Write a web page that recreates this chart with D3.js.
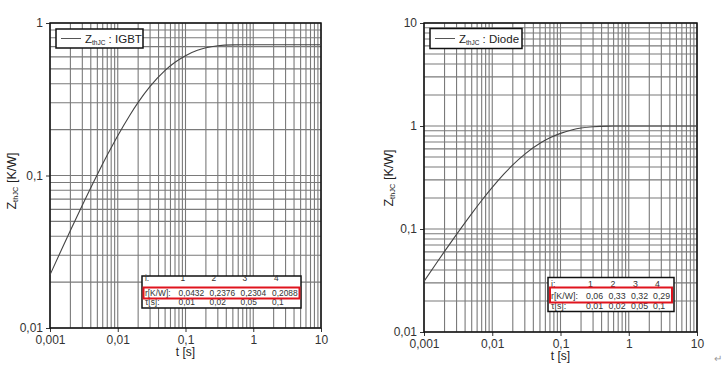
<!DOCTYPE html>
<html><head><meta charset="utf-8">
<script src="https://cdn.jsdelivr.net/npm/d3@7/dist/d3.min.js"></script>
<style>body{margin:0;background:#fff}svg{display:block;font-family:"Liberation Sans",Arial,sans-serif}</style>
</head><body>
<svg id="c" width="727" height="373"></svg>
<script>
// time samples [s]
const times = [0.001,0.0015,0.002,0.003,0.005,0.007,0.01,0.015,0.02,0.03,0.05,0.07,0.1,0.15,0.2,0.3,0.5,0.7,1,2,5,10];
// Z_thJC IGBT [K/W]
const zIGBT = [0.0223,0.0331,0.0436,0.0639,0.1017,0.1361,0.1825,0.2477,0.3014,0.3837,0.4888,0.5523,0.6104,0.6618,0.6875,0.7090,0.7186,0.7198,0.72,0.72,0.72,0.72];
// Z_thJC Diode [K/W]
const zDiode = [0.0310,0.0460,0.0606,0.0887,0.1412,0.1890,0.2534,0.3441,0.4186,0.5329,0.6789,0.7671,0.8478,0.9192,0.9549,0.9848,0.9981,0.9997,1.0,1.0,1.0,1.0];
// table data
const tableIdx = ["1","2","3","4"];
const rIGBT = ["0,0432","0,2376","0,2304","0,2088"];
const rDiode = ["0,06","0,33","0,32","0,29"];
const tauIGBT = ["0,01","0,02","0,05","0,1"];
const tauDiode = ["0,01","0,02","0,05","0,1"];
const xTicks = [0.001,0.01,0.1,1,10];
const xTickLabels = ["0,001","0,01","0,1","1","10"];
const yTicksIGBT = [0.01,0.1,1];
const yTickLabelsIGBT = ["0,01","0,1","1"];
const yTicksDiode = [0.01,0.1,1,10];
const yTickLabelsDiode = ["0,01","0,1","1","10"];

const svg = d3.select("#c");

function minorVals(lo, hi){
  const v=[];
  for(let e=Math.round(Math.log10(lo)); e<Math.round(Math.log10(hi)); e++){
    for(let k=1;k<=9;k++) v.push(k*Math.pow(10,e));
  }
  v.push(hi);
  return v;
}

function chart(cfg){
  const g = svg.append("g");
  const x = d3.scaleLog().domain([0.001,10]).range([cfg.x0,cfg.x1]);
  const y = d3.scaleLog().domain(cfg.ydom).range([cfg.y1,cfg.y0]);
  const gc = "#7a7a7a";
  g.append("g").selectAll("line").data(minorVals(0.001,10)).join("line")
    .attr("x1",d=>x(d)).attr("x2",d=>x(d)).attr("y1",cfg.y0).attr("y2",cfg.y1)
    .attr("stroke",gc).attr("stroke-width",1.1);
  g.append("g").selectAll("line").data(minorVals(cfg.ydom[0],cfg.ydom[1])).join("line")
    .attr("y1",d=>y(d)).attr("y2",d=>y(d)).attr("x1",cfg.x0).attr("x2",cfg.x1)
    .attr("stroke",gc).attr("stroke-width",1.1);
  // axes
  const xa = g.append("g").attr("transform",`translate(0,${cfg.y1})`)
    .call(d3.axisBottom(x).tickValues(xTicks).tickFormat((d,i)=>xTickLabels[i]).tickSize(4).tickPadding(3));
  const ya = g.append("g").attr("transform",`translate(${cfg.x0},0)`)
    .call(d3.axisLeft(y).tickValues(cfg.yticks).tickFormat((d,i)=>cfg.ylabels[i]).tickSize(4).tickPadding(3));
  [xa,ya].forEach(a=>{
    a.select(".domain").remove();
    a.selectAll("text").attr("font-size",12).attr("fill","#333").attr("font-family","Liberation Sans, Arial, sans-serif");
    a.selectAll("line").attr("stroke","#333");
  });
  // border
  g.append("rect").attr("x",cfg.x0).attr("y",cfg.y0).attr("width",cfg.x1-cfg.x0).attr("height",cfg.y1-cfg.y0)
    .attr("fill","none").attr("stroke","#111").attr("stroke-width",1.5);
  // curve
  const line = d3.line().x((d,i)=>x(times[i])).y(d=>y(d)).curve(d3.curveMonotoneX);
  g.append("path").datum(cfg.z).attr("d",line).attr("fill","none").attr("stroke","#444").attr("stroke-width",1.1);
  // legend
  const L = cfg.leg;
  g.append("rect").attr("x",L.x).attr("y",L.y).attr("width",L.w).attr("height",L.h)
    .attr("fill","#fff").attr("stroke","#111").attr("stroke-width",1.5);
  g.append("line").attr("x1",L.x+5).attr("x2",L.x+25).attr("y1",L.y+L.h/2).attr("y2",L.y+L.h/2)
    .attr("stroke","#555").attr("stroke-width",1);
  const lt = g.append("text").attr("x",L.x+29).attr("y",L.y+L.h/2+4).attr("font-size",11.5).attr("fill","#222");
  lt.append("tspan").text("Z");
  lt.append("tspan").text("thJC").attr("font-size",6.5).attr("dy",2);
  lt.append("tspan").text(" : "+cfg.name).attr("dy",-2);
  // axis titles
  const yt = g.append("text").attr("transform",`translate(${cfg.ytx},${cfg.yty}) rotate(-90)`)
    .attr("text-anchor","middle").attr("font-size",12.5).attr("fill","#222");
  yt.append("tspan").text("Z");
  yt.append("tspan").text("thJC").attr("font-size",7.5).attr("dy",2);
  yt.append("tspan").text(" [K/W]").attr("dy",-2);
  g.append("text").attr("x",x(0.1)).attr("y",cfg.xty).attr("text-anchor","middle")
    .attr("font-size",12).attr("fill","#222").text("t [s]");
  // table
  const T = cfg.tab;
  g.append("rect").attr("x",T.x).attr("y",T.y).attr("width",T.w).attr("height",T.h)
    .attr("fill","#fff").attr("stroke","#111").attr("stroke-width",1.5);
  const tg = g.append("g").attr("font-size",T.fs).attr("fill","#333");
  tg.append("text").attr("x",T.x+3).attr("y",T.rows[0]).text("i:");
  tg.append("text").attr("x",T.x+3).attr("y",T.rows[1]).text("r[K/W]:");
  tg.append("text").attr("x",T.x+3).attr("y",T.rows[2]).text("τ[s]:");
  tableIdx.forEach((d,i)=>tg.append("text").attr("x",T.cols[i]+2).attr("y",T.rows[0]).text(d));
  cfg.r.forEach((d,i)=>tg.append("text").attr("x",T.cols[i]).attr("y",T.rows[1]).text(d));
  cfg.tau.forEach((d,i)=>tg.append("text").attr("x",T.cols[i]).attr("y",T.rows[2]).text(d));
  g.append("rect").attr("x",T.rx).attr("y",T.ry).attr("width",T.rw).attr("height",T.rh)
    .attr("fill","none").attr("stroke","#e0141e").attr("stroke-width",2);
}

chart({name:"IGBT", x0:50, x1:321, y0:23, y1:328, ydom:[0.01,1], yticks:yTicksIGBT, ylabels:yTickLabelsIGBT, z:zIGBT,
  leg:{x:56,y:29,w:87,h:19}, ytx:16, yty:181, xty:356,
  tab:{x:142,y:276,w:159,h:32, fs:8.4, rows:[281,295.5,305], cols:[178.5,209.5,240.5,272], rx:143.5,ry:287.5,rw:156,rh:11},
  r:rIGBT, tau:tauIGBT});
chart({name:"Diode", x0:424, x1:697, y0:23, y1:332, ydom:[0.01,10], yticks:yTicksDiode, ylabels:yTickLabelsDiode, z:zDiode,
  leg:{x:430,y:28.5,w:92,h:20}, ytx:393, yty:178, xty:360,
  tab:{x:548,y:277.5,w:126,h:34, fs:8.8, rows:[287,298.5,309], cols:[586,608.5,631,653], rx:550,ry:287.5,rw:122,rh:15},
  r:rDiode, tau:tauDiode});
svg.append("text").attr("x",714).attr("y",362).attr("font-size",10).attr("fill","#999").text("↵");
</script>
</body></html>
